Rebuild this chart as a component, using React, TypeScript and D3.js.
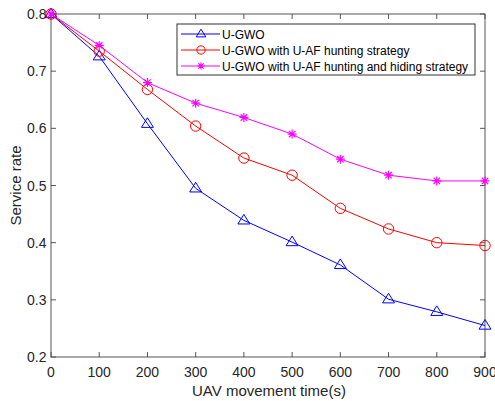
import { useEffect, useRef } from 'react';
import * as d3 from 'd3';

const times = [0, 100, 200, 300, 400, 500, 600, 700, 800, 900];
const ugwo = [0.8, 0.726, 0.608, 0.495, 0.439, 0.401, 0.361, 0.301, 0.279, 0.255];
const hunting = [0.8, 0.735, 0.668, 0.604, 0.548, 0.518, 0.46, 0.424, 0.4, 0.395];
const huntingHiding = [0.8, 0.745, 0.68, 0.644, 0.619, 0.59, 0.546, 0.518, 0.508, 0.508];
const seriesNames = [
  'U-GWO',
  'U-GWO with U-AF hunting strategy',
  'U-GWO with U-AF hunting and hiding strategy'
];
const xTicks = [0, 100, 200, 300, 400, 500, 600, 700, 800, 900];
const yTicks = [0.2, 0.3, 0.4, 0.5, 0.6, 0.7, 0.8];

const font = '"Liberation Sans", Arial, sans-serif';

export default function App() {
  const svgRef = useRef<SVGSVGElement>(null);

  useEffect(() => {
    const width = 495;
    const height = 401;
    const svg = d3.select(svgRef.current);
    svg.selectAll('*').remove();
    svg.attr('width', width).attr('height', height);

    const margin = { top: 14, right: 10, bottom: 44, left: 51 };
    const innerWidth = width - margin.left - margin.right;
    const innerHeight = height - margin.top - margin.bottom;

    const g = svg.append('g').attr('transform', `translate(${margin.left},${margin.top})`);

    const x = d3.scaleLinear().domain([0, 900]).range([0, innerWidth]);
    const y = d3.scaleLinear().domain([0.2, 0.8]).range([innerHeight, 0]);

    const axisColor = '#555';
    const tickLen = 5;

    // box
    g.append('rect')
      .attr('width', innerWidth)
      .attr('height', innerHeight)
      .attr('fill', 'white')
      .attr('stroke', axisColor)
      .attr('stroke-width', 1);

    // x ticks (bottom + top, inward)
    xTicks.forEach(t => {
      g.append('line').attr('x1', x(t)).attr('x2', x(t))
        .attr('y1', innerHeight).attr('y2', innerHeight - tickLen)
        .attr('stroke', axisColor);
      g.append('line').attr('x1', x(t)).attr('x2', x(t))
        .attr('y1', 0).attr('y2', tickLen)
        .attr('stroke', axisColor);
      g.append('text')
        .attr('x', x(t)).attr('y', innerHeight + 19.5)
        .attr('text-anchor', 'middle')
        .attr('font-family', font).attr('font-size', 14)
        .attr('fill', '#262626')
        .text(String(t));
    });

    // y ticks
    yTicks.forEach(t => {
      g.append('line').attr('x1', 0).attr('x2', tickLen)
        .attr('y1', y(t)).attr('y2', y(t))
        .attr('stroke', axisColor);
      g.append('line').attr('x1', innerWidth).attr('x2', innerWidth - tickLen)
        .attr('y1', y(t)).attr('y2', y(t))
        .attr('stroke', axisColor);
      g.append('text')
        .attr('x', -4.5).attr('y', y(t) + 5)
        .attr('text-anchor', 'end')
        .attr('font-family', font).attr('font-size', 14)
        .attr('fill', '#262626')
        .text(t.toFixed(1));
    });

    // axis labels
    svg.append('text')
      .attr('x', margin.left + innerWidth / 2 + 1).attr('y', 396)
      .attr('text-anchor', 'middle')
      .attr('font-family', font).attr('font-size', 15)
      .attr('fill', '#262626')
      .text('UAV movement time(s)');
    svg.append('text')
      .attr('transform', `translate(21,${margin.top + innerHeight / 2}) rotate(-90)`)
      .attr('text-anchor', 'middle')
      .attr('font-family', font).attr('font-size', 15)
      .attr('fill', '#262626')
      .text('Service rate');

    const colors = ['#0000ff', '#ff0000', '#ff00ff'];
    const allSeries = [ugwo, hunting, huntingHiding];

    const drawMarker = (sel: any, kind: number, cx: number, cy: number, color: string, scale = 1) => {
      if (kind === 0) {
        const s = 6 * scale;
        sel.append('path')
          .attr('d', `M${cx},${cy - s}L${cx + s},${cy + s * 0.6}L${cx - s},${cy + s * 0.6}Z`)
          .attr('fill', 'none').attr('stroke', color).attr('stroke-width', 1);
      } else if (kind === 1) {
        sel.append('circle').attr('cx', cx).attr('cy', cy).attr('r', 5.2 * scale)
          .attr('fill', 'none').attr('stroke', color).attr('stroke-width', 1);
      } else {
        const s = 4.5 * scale;
        const d = s * 0.72;
        sel.append('path')
          .attr('d', `M${cx - s},${cy}L${cx + s},${cy}M${cx},${cy - s}L${cx},${cy + s}M${cx - d},${cy - d}L${cx + d},${cy + d}M${cx - d},${cy + d}L${cx + d},${cy - d}`)
          .attr('fill', 'none').attr('stroke', color).attr('stroke-width', 1.2);
      }
    };

    const line = d3.line<number>()
      .x((d, i) => x(times[i]))
      .y(d => y(d));

    allSeries.forEach((vals, k) => {
      g.append('path')
        .datum(vals)
        .attr('d', line)
        .attr('fill', 'none')
        .attr('stroke', colors[k])
        .attr('stroke-width', 1);
      vals.forEach((v, i) => drawMarker(g, k, x(times[i]), y(v), colors[k]));
    });

    // legend
    const lg = svg.append('g').attr('transform', 'translate(177,24)');
    lg.append('rect')
      .attr('width', 298).attr('height', 51)
      .attr('fill', 'white').attr('stroke', '#333').attr('stroke-width', 1);
    seriesNames.forEach((name, k) => {
      const ly = 10 + k * 16;
      lg.append('line').attr('x1', 4).attr('x2', 43).attr('y1', ly).attr('y2', ly)
        .attr('stroke', colors[k]).attr('stroke-width', 1);
      drawMarker(lg, k, 24, ly, colors[k], 0.8);
      lg.append('text')
        .attr('x', 45).attr('y', ly + 4.5)
        .attr('font-family', font).attr('font-size', 12)
        .attr('fill', '#000')
        .text(name);
    });
  }, []);

  return (
    <div style={{ position: 'absolute', left: 0, top: 0 }}>
      <svg ref={svgRef}></svg>
    </div>
  );
}
